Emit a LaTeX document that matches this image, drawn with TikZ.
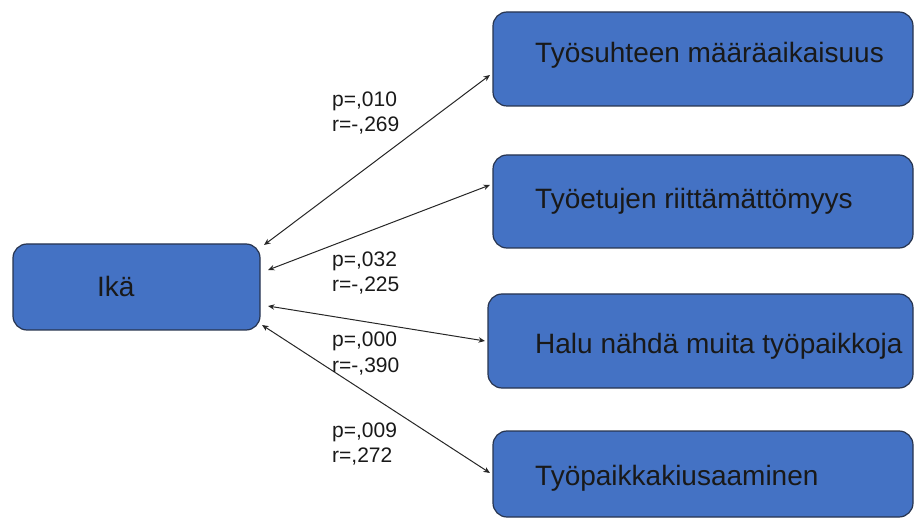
\documentclass[tikz,border=0pt]{standalone}
\usepackage{fontspec}
\setmainfont{Liberation Sans}
\usetikzlibrary{arrows.meta,calc}
\definecolor{boxblue}{HTML}{4472C4}
\definecolor{boxedge}{HTML}{27344F}

\begin{document}
\begin{tikzpicture}[x=1pt,y=-1pt,
  box/.style={draw=boxedge, line width=1.2pt, fill=boxblue, rounded corners=14pt,
              inner sep=0pt, outer sep=0pt},
  boxtext/.style={anchor=base west, font=\fontsize{28}{32}\selectfont, text=black!90, inner sep=0pt},
  stat/.style={anchor=base west, font=\fontsize{21}{25}\selectfont, text=black!90, inner sep=0pt},
  link/.style={{Stealth[length=6.5pt,width=5.5pt]}-{Stealth[length=6.5pt,width=5.5pt]}, line width=1pt, black!85}]

\useasboundingbox (0,0) rectangle (915,518);

% boxes
\node[box, minimum width=247pt, minimum height=86pt] (ika) at (136.5,287) {};
\node[box, minimum width=420pt, minimum height=94pt] (b1) at (703,59) {};
\node[box, minimum width=420pt, minimum height=93pt] (b2) at (703,201.5) {};
\node[box, minimum width=425pt, minimum height=94pt] (b3) at (700.5,341) {};
\node[box, minimum width=420pt, minimum height=86pt] (b4) at (703,474) {};

% box texts
\node[boxtext] (tika) at (97,297) {Ikä};
\node[boxtext] (t1) at (535,63) {Työsuhteen määräaikaisuus};
\node[boxtext] (t2) at (535,209) {Työetujen riittämättömyys};
\node[boxtext] (t3) at (535,353) {Halu nähdä muita työpaikkoja};
\node[boxtext] (t4) at (535,485) {Työpaikkakiusaaminen};

% correlation links
\draw[link] ($(ika.north east)+(4,1)$) -- ($(b1.west)+(-3,16)$);
\draw[link] ($(ika.north east)+(8,26)$) -- ($(b2.west)+(-3,-16.5)$);
\draw[link] ($(ika.south east)+(8,-24)$) -- ($(b3.west)+(-3,0)$);
\draw[link] ($(ika.south east)+(2,-5)$) -- ($(b4.west)+(-3,-1)$);

% statistics
\node[stat] (p1) at (332,107) {p=,010};
\node[stat] (r1) at (332,132) {r=-,269};
\node[stat] (p2) at (332,267) {p=,032};
\node[stat] (r2) at (332,292) {r=-,225};
\node[stat] (p3) at (332,347) {p=,000};
\node[stat] (r3) at (332,372) {r=-,390};
\node[stat] (p4) at (332,437) {p=,009};
\node[stat] (r4) at (332,462) {r=,272};
\end{tikzpicture}
\end{document}
